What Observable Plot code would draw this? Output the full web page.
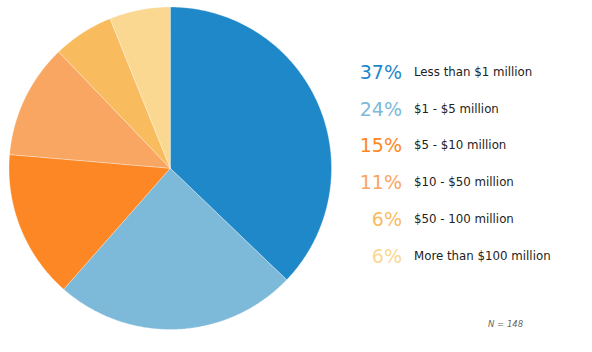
<!DOCTYPE html>
<html><head><meta charset="utf-8">
<script src="https://cdn.jsdelivr.net/npm/d3@7"></script>
<script src="https://cdn.jsdelivr.net/npm/@observablehq/plot@0.6"></script>
<style>
body{margin:0;background:#fff;font-family:"DejaVu Sans",Verdana,sans-serif;}
#wrap{position:relative;width:592px;height:352px;}
#legend{position:absolute;left:352px;top:53.4px;}
.row{display:flex;align-items:center;height:36.8px;}
.pct{width:50px;text-align:right;font-size:19px;}
.lab{margin-left:12px;font-size:11.8px;color:#222;}
#note{position:absolute;left:488px;top:319px;font-size:8.5px;font-style:italic;color:#666;}
</style></head>
<body><div id="wrap"><div id="legend"></div><div id="note">N = 148</div></div>
<script>
const categories = ["Less than $1 million","$1 - $5 million","$5 - $10 million","$10 - $50 million","$50 - 100 million","More than $100 million"];
const counts = [55, 36, 22, 17, 9, 9];
const pctLabels = ["37%","24%","15%","11%","6%","6%"];
const colors = ["#1f88c8","#7db9d9","#fd8724","#f9a663","#f8bc5f","#fad891"];
const total = 148;

const arcs = d3.pie().sort(null).value(d => d)(counts);
const pts = [];
arcs.forEach((a, i) => {
  const c = categories[i];
  pts.push({cat: c, x: 0, y: 0});
  const n = Math.max(2, Math.ceil((a.endAngle - a.startAngle) / 0.01));
  for (let k = 0; k <= n; k++) {
    const t = a.startAngle + (a.endAngle - a.startAngle) * k / n;
    pts.push({cat: c, x: Math.sin(t), y: Math.cos(t)});
  }
  pts.push({cat: c, x: 0, y: 0});
});

const chart = Plot.plot({
  width: 592, height: 352,
  x: {domain: [-1, 1], range: [8.5, 331], axis: null},
  y: {domain: [-1, 1], range: [329, 6.5], axis: null},
  color: {domain: categories, range: colors},
  marks: [
    Plot.line(pts, {x: "x", y: "y", z: "cat", fill: "cat", stroke: "#fff", strokeWidth: 0.5, strokeOpacity: 0.6, curve: "linear"})
  ]
});
document.getElementById("wrap").prepend(chart);

const lg = document.getElementById("legend");
categories.forEach((c, i) => {
  const r = document.createElement("div"); r.className = "row";
  r.innerHTML = `<span class="pct" style="color:${colors[i]}">${pctLabels[i]}</span><span class="lab">${c}</span>`;
  lg.appendChild(r);
});
</script></body></html>
